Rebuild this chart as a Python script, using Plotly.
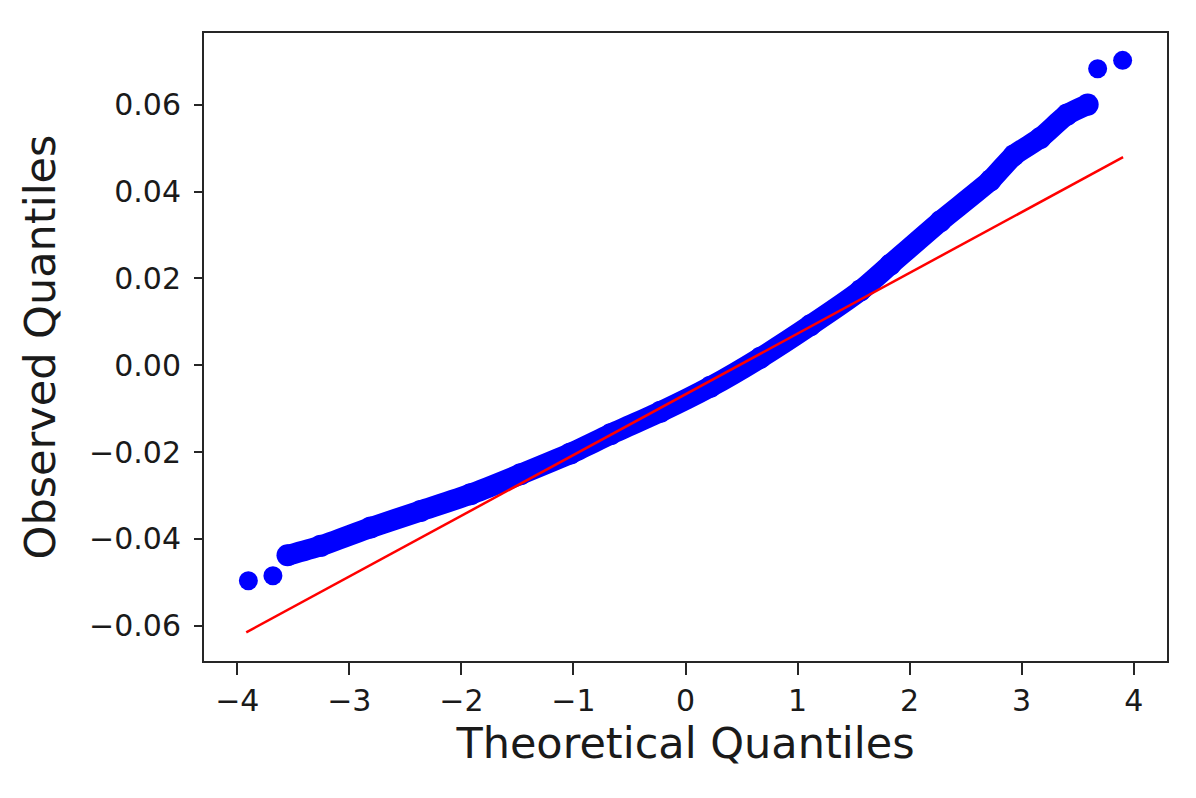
"""
QQ plot: observed vs theoretical quantiles with the reference fit line.
"""
import plotly.graph_objects as go

# Theoretical / observed quantiles
band_x = [-3.552, -3.256, -2.810, -2.364, -1.918, -1.472, -1.026, -0.669,
          -0.223, 0.223, 0.669, 1.115, 1.561, 1.829, 2.275, 2.721, 2.929,
          3.167, 3.405, 3.589]
band_y = [-0.04377, -0.04159, -0.03738, -0.03354, -0.02970, -0.02510,
          -0.02030, -0.01589, -0.01072, -0.00497, 0.00173, 0.00920,
          0.01720, 0.02320, 0.03317, 0.04255, 0.04830, 0.05233, 0.05771,
          0.06001]

# isolated tail points
tail_x = [-3.901, -3.682, 3.678, 3.901]
tail_y = [-0.04963, -0.04849, 0.06829, 0.07020]

# fitted reference line (end points)
fit_x = [-3.92, 3.905]
fit_y = [-0.0615, 0.0479]

x_ticks = [-4, -3, -2, -1, 0, 1, 2, 3, 4]
y_ticks = [-0.06, -0.04, -0.02, 0.00, 0.02, 0.04, 0.06]

BLUE = "#0000ff"
RED = "#ff0000"
AXIS = "#262626"
TEXT = "#1a1a1a"
FONT = "DejaVu Sans"

fig = go.Figure()

# dense body of the sample, drawn as a thick stroke with markers on it
fig.add_trace(go.Scatter(
    x=band_x, y=band_y,
    mode="lines+markers",
    line=dict(color=BLUE, width=21, shape="spline", smoothing=0.6),
    marker=dict(color=BLUE, size=22),
    hoverinfo="x+y",
))

fig.add_trace(go.Scatter(
    x=tail_x, y=tail_y,
    mode="markers",
    marker=dict(color=BLUE, size=19),
    hoverinfo="x+y",
))

fig.add_trace(go.Scatter(
    x=fit_x, y=fit_y,
    mode="lines",
    line=dict(color=RED, width=2.5),
    hoverinfo="none",
))

axis_common = dict(
    showgrid=False,
    zeroline=False,
    showline=True,
    linecolor=AXIS,
    linewidth=2,
    mirror=True,
    ticks="outside",
    tickcolor=AXIS,
    tickwidth=2,
    tickfont=dict(family=FONT, size=30, color=TEXT),
)

fig.update_layout(
    width=1196,
    height=798,
    showlegend=False,
    paper_bgcolor="white",
    plot_bgcolor="white",
    margin=dict(l=196, r=37, t=25, b=145),
    xaxis=dict(
        range=[-4.297, 4.297],
        tickvals=x_ticks,
        ticktext=[str(v).replace("-", "\u2212") for v in x_ticks],
        ticklen=12,
        ticklabelstandoff=0,
        title=dict(text="Theoretical Quantiles", standoff=0,
                   font=dict(family=FONT, size=43, color=TEXT)),
        **axis_common,
    ),
    yaxis=dict(
        range=[-0.0681, 0.0765],
        tickvals=y_ticks,
        tickformat=".2f",
        ticklen=8,
        ticklabelstandoff=7,
        title=dict(text="Observed Quantiles", standoff=20,
                   font=dict(family=FONT, size=43, color=TEXT)),
        **axis_common,
    ),
)

fig.write_html("out.html")
